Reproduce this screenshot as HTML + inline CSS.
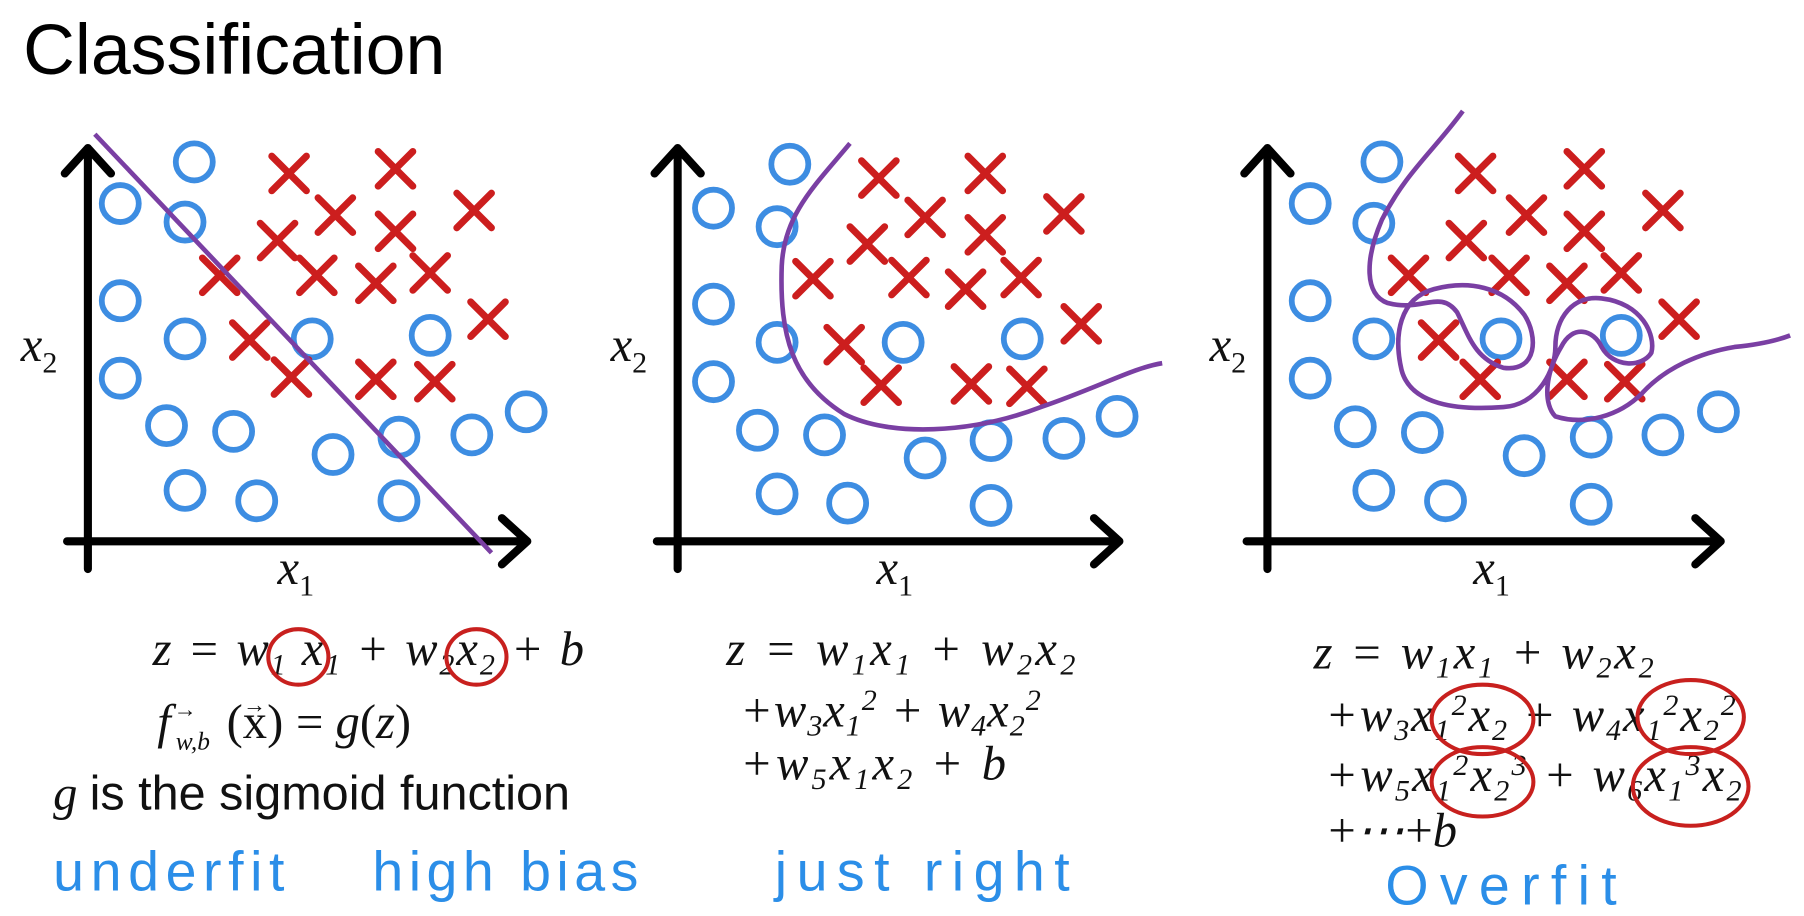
<!DOCTYPE html>
<html><head><meta charset="utf-8"><style>
html,body{margin:0;padding:0;background:#fff;}
svg{display:block;}
.t{font-family:"Liberation Serif",serif;font-style:italic;font-size:42px;fill:#111;}
.h{font-family:"Liberation Sans",sans-serif;font-size:48px;fill:#2b8ee8;}
</style></head><body>
<svg width="1804" height="916" viewBox="0 0 1560 792" preserveAspectRatio="none" xmlns="http://www.w3.org/2000/svg">
<defs>
<g id="o"><circle r="16" fill="none" stroke="#3d8de2" stroke-width="5"/></g>
<g id="x"><path d="M-15,-15L15,15M15,-15L-15,15" stroke="#cc1e1e" stroke-width="6" stroke-linecap="round"/></g>
</defs>
<text x="20" y="64" font-family="Liberation Sans,sans-serif" font-size="62" fill="#000">Classification</text>

<g stroke="#000" stroke-width="7" fill="none" stroke-linecap="round" stroke-linejoin="round">
<path d="M76,492V128M56,150L76,128L96,150"/><path d="M58,468H456M434,448L456,468L434,488"/>
<path d="M586,492V128M566,150L586,128L606,150"/><path d="M568,468H968M946,448L968,468L946,488"/>
<path d="M1096,492V128M1076,150L1096,128L1116,150"/><path d="M1078,468H1488M1466,448L1488,468L1466,488"/>
</g>
<g class="t" font-size="40">
<text x="18" y="312">x<tspan font-size="26" font-style="normal" dy="10">2</tspan></text>
<text x="240" y="505">x<tspan font-size="26" font-style="normal" dy="10">1</tspan></text>
<text x="528" y="312">x<tspan font-size="26" font-style="normal" dy="10">2</tspan></text>
<text x="758" y="505">x<tspan font-size="26" font-style="normal" dy="10">1</tspan></text>
<text x="1046" y="312">x<tspan font-size="26" font-style="normal" dy="10">2</tspan></text>
<text x="1274" y="505">x<tspan font-size="26" font-style="normal" dy="10">1</tspan></text>
</g>

<g>
<use href="#o" x="168" y="140"/><use href="#o" x="104" y="176"/><use href="#o" x="160" y="192"/><use href="#o" x="104" y="260"/><use href="#o" x="160" y="293"/><use href="#o" x="270" y="293"/><use href="#o" x="372" y="290"/><use href="#o" x="104" y="327"/><use href="#o" x="144" y="368"/><use href="#o" x="202" y="373"/><use href="#o" x="288" y="393"/><use href="#o" x="345" y="378"/><use href="#o" x="408" y="376"/><use href="#o" x="455" y="356"/><use href="#o" x="160" y="424"/><use href="#o" x="222" y="433"/><use href="#o" x="345" y="433"/>
<use href="#x" x="250" y="150"/><use href="#x" x="342" y="146"/><use href="#x" x="290" y="186"/><use href="#x" x="410" y="182"/><use href="#x" x="240" y="208"/><use href="#x" x="342" y="200"/><use href="#x" x="190" y="238"/><use href="#x" x="274" y="238"/><use href="#x" x="325" y="245"/><use href="#x" x="372" y="236"/><use href="#x" x="422" y="276"/><use href="#x" x="216" y="294"/><use href="#x" x="252" y="326"/><use href="#x" x="325" y="328"/><use href="#x" x="376" y="330"/>
<path d="M82,116L425,478" stroke="#7a3fa3" stroke-width="4" fill="none"/>
</g>
<g>
<use href="#o" x="683" y="142"/><use href="#o" x="617" y="180"/><use href="#o" x="672" y="196"/><use href="#o" x="617" y="263"/><use href="#o" x="672" y="296"/><use href="#o" x="781" y="296"/><use href="#o" x="884" y="293"/><use href="#o" x="617" y="330"/><use href="#o" x="655" y="372"/><use href="#o" x="713" y="376"/><use href="#o" x="800" y="396"/><use href="#o" x="857" y="381"/><use href="#o" x="920" y="379"/><use href="#o" x="966" y="360"/><use href="#o" x="672" y="427"/><use href="#o" x="733" y="435"/><use href="#o" x="857" y="437"/>
<use href="#x" x="760" y="154"/><use href="#x" x="852" y="150"/><use href="#x" x="800" y="188"/><use href="#x" x="920" y="185"/><use href="#x" x="750" y="211"/><use href="#x" x="852" y="203"/><use href="#x" x="703" y="241"/><use href="#x" x="786" y="240"/><use href="#x" x="835" y="250"/><use href="#x" x="883" y="240"/><use href="#x" x="935" y="280"/><use href="#x" x="730" y="298"/><use href="#x" x="762" y="333"/><use href="#x" x="840" y="332"/><use href="#x" x="888" y="334"/>
<path d="M735,124C705,160 678,185 676,230C674,290 685,330 730,358C770,378 840,375 900,352C950,335 980,318 1005,314" stroke="#7a3fa3" stroke-width="4" fill="none"/>
</g>
<g>
<use href="#o" x="1195" y="140"/><use href="#o" x="1133" y="176"/><use href="#o" x="1188" y="193"/><use href="#o" x="1133" y="260"/><use href="#o" x="1188" y="293"/><use href="#o" x="1298" y="293"/><use href="#o" x="1402" y="290"/><use href="#o" x="1133" y="327"/><use href="#o" x="1172" y="369"/><use href="#o" x="1230" y="374"/><use href="#o" x="1318" y="394"/><use href="#o" x="1376" y="378"/><use href="#o" x="1438" y="376"/><use href="#o" x="1486" y="356"/><use href="#o" x="1188" y="424"/><use href="#o" x="1250" y="433"/><use href="#o" x="1376" y="436"/>
<use href="#x" x="1276" y="150"/><use href="#x" x="1370" y="146"/><use href="#x" x="1320" y="186"/><use href="#x" x="1438" y="182"/><use href="#x" x="1268" y="208"/><use href="#x" x="1370" y="200"/><use href="#x" x="1218" y="238"/><use href="#x" x="1305" y="238"/><use href="#x" x="1355" y="245"/><use href="#x" x="1402" y="236"/><use href="#x" x="1452" y="276"/><use href="#x" x="1244" y="294"/><use href="#x" x="1280" y="328"/><use href="#x" x="1355" y="328"/><use href="#x" x="1405" y="330"/>
<path d="M1265,96C1240,130 1215,150 1195,190C1180,225 1180,255 1200,262C1230,270 1245,250 1260,270C1270,290 1275,310 1300,318C1330,322 1330,290 1318,272C1300,248 1270,242 1240,250C1210,258 1205,290 1212,320C1220,350 1260,355 1300,352C1330,350 1345,320 1345,300C1345,275 1360,255 1385,258C1420,262 1432,290 1428,305C1420,318 1395,318 1385,300C1378,285 1360,280 1350,300C1335,325 1335,350 1345,360C1370,368 1400,360 1420,340C1440,318 1470,305 1500,300C1520,298 1535,295 1548,290" stroke="#7a3fa3" stroke-width="4" fill="none"/>
</g>

<g class="t">
<text x="132" y="575" textLength="373" lengthAdjust="spacing">z = w<tspan font-size="26" dy="8">1</tspan><tspan dy="-8"> x</tspan><tspan font-size="26" dy="8">1</tspan><tspan dy="-8"> + w</tspan><tspan font-size="26" dy="8">2</tspan><tspan dy="-8">x</tspan><tspan font-size="26" dy="8">2</tspan><tspan dy="-8"> + b</tspan></text>
<text x="136" y="638">f</text>
<text x="152" y="648" font-size="22">w,b</text>
<text x="150" y="620" font-size="20" font-style="normal">→</text>
<text x="196" y="638" font-style="normal">(x)</text>
<text x="210" y="616" font-size="20" font-style="normal">→</text>
<text x="256" y="638" font-style="normal">= <tspan font-style="italic">g</tspan>(<tspan font-style="italic">z</tspan>)</text>
<text x="46" y="700">g <tspan font-style="normal" font-family="Liberation Sans,sans-serif" font-size="42">is the sigmoid function</tspan></text>

<text x="628" y="575" textLength="302" lengthAdjust="spacing">z = w<tspan font-size="26" dy="8">1</tspan><tspan dy="-8">x</tspan><tspan font-size="26" dy="8">1</tspan><tspan dy="-8"> + w</tspan><tspan font-size="26" dy="8">2</tspan><tspan dy="-8">x</tspan><tspan font-size="26" dy="8">2</tspan></text>
<text x="640" y="628" textLength="260" lengthAdjust="spacing">+w<tspan font-size="26" dy="8">3</tspan><tspan dy="-8">x</tspan><tspan font-size="26" dy="8">1</tspan><tspan font-size="26" dy="-22">2</tspan><tspan dy="14"> + w</tspan><tspan font-size="26" dy="8">4</tspan><tspan dy="-8">x</tspan><tspan font-size="26" dy="8">2</tspan><tspan font-size="26" dy="-22">2</tspan></text>
<text x="640" y="674" textLength="230" lengthAdjust="spacing">+w<tspan font-size="26" dy="8">5</tspan><tspan dy="-8">x</tspan><tspan font-size="26" dy="8">1</tspan><tspan dy="-8">x</tspan><tspan font-size="26" dy="8">2</tspan><tspan dy="-8"> + b</tspan></text>

<text x="1136" y="578" textLength="294" lengthAdjust="spacing">z = w<tspan font-size="26" dy="8">1</tspan><tspan dy="-8">x</tspan><tspan font-size="26" dy="8">1</tspan><tspan dy="-8"> + w</tspan><tspan font-size="26" dy="8">2</tspan><tspan dy="-8">x</tspan><tspan font-size="26" dy="8">2</tspan></text>
<text x="1146" y="632" textLength="355" lengthAdjust="spacing">+w<tspan font-size="26" dy="8">3</tspan><tspan dy="-8">x</tspan><tspan font-size="26" dy="8">1</tspan><tspan font-size="26" dy="-22">2</tspan><tspan dy="14">x</tspan><tspan font-size="26" dy="8">2</tspan><tspan dy="-8"> + w</tspan><tspan font-size="26" dy="8">4</tspan><tspan dy="-8">x</tspan><tspan font-size="26" dy="8">1</tspan><tspan font-size="26" dy="-22">2</tspan><tspan dy="14">x</tspan><tspan font-size="26" dy="8">2</tspan><tspan font-size="26" dy="-22">2</tspan></text>
<text x="1146" y="684" textLength="360" lengthAdjust="spacing">+w<tspan font-size="26" dy="8">5</tspan><tspan dy="-8">x</tspan><tspan font-size="26" dy="8">1</tspan><tspan font-size="26" dy="-22">2</tspan><tspan dy="14">x</tspan><tspan font-size="26" dy="8">2</tspan><tspan font-size="26" dy="-22">3</tspan><tspan dy="14"> +  w</tspan><tspan font-size="26" dy="8">6</tspan><tspan dy="-8">x</tspan><tspan font-size="26" dy="8">1</tspan><tspan font-size="26" dy="-22">3</tspan><tspan dy="14">x</tspan><tspan font-size="26" dy="8">2</tspan></text>
<text x="1146" y="732" textLength="114" lengthAdjust="spacing">+ ⋯ + b</text>
</g>
<g fill="none" stroke="#c8201e" stroke-width="3.5">
<ellipse cx="258" cy="568" rx="26" ry="24"/>
<ellipse cx="412" cy="568" rx="26" ry="24"/>
<ellipse cx="1282" cy="622" rx="44" ry="30"/>
<ellipse cx="1462" cy="620" rx="46" ry="32"/>
<ellipse cx="1282" cy="676" rx="44" ry="30"/>
<ellipse cx="1462" cy="680" rx="50" ry="34"/>
</g>

<text class="h" x="46" y="770" textLength="200" lengthAdjust="spacing">underfit</text>
<text class="h" x="322" y="770" textLength="230" lengthAdjust="spacing">high bias</text>
<text class="h" x="670" y="770" textLength="255" lengthAdjust="spacing">just right</text>
<text class="h" x="1198" y="782" textLength="200" lengthAdjust="spacing">Overfit</text>
</svg>
</body></html>
